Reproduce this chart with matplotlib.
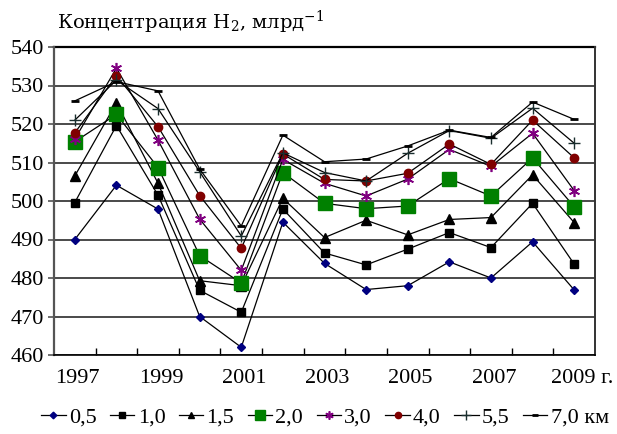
import matplotlib
matplotlib.use("Agg")
import matplotlib.pyplot as plt
from matplotlib.transforms import ScaledTranslation

plt.rcParams['font.family'] = ['Liberation Serif', 'DejaVu Serif']
plt.rcParams['mathtext.fontset'] = 'custom'
plt.rcParams['mathtext.rm'] = 'DejaVu Serif'
plt.rcParams['mathtext.it'] = 'DejaVu Serif:italic'

years = [1997, 1998, 1999, 2000, 2001, 2002, 2003, 2004, 2005, 2006, 2007, 2008, 2009]
tick_years = [1997, 1999, 2001, 2003, 2005, 2007, 2009]
tick_labels = ["1997", "1999", "2001", "2003", "2005", "2007", "2009 г."]

h05 = [490.0, 504.1, 497.9, 470.0, 462.0, 494.5, 483.8, 477.0, 478.0, 484.2, 480.0, 489.4, 476.9]
h10 = [499.6, 519.6, 501.5, 476.8, 471.1, 497.9, 486.5, 483.4, 487.5, 491.8, 487.9, 499.4, 483.6]
h15 = [506.5, 525.5, 504.6, 479.3, 478.0, 500.7, 490.5, 495.0, 491.2, 495.2, 495.7, 506.8, 494.4]
h20 = [515.4, 522.5, 508.7, 485.8, 478.7, 507.4, 499.4, 498.0, 498.7, 505.8, 501.3, 511.2, 498.5]
h30 = [516.1, 534.5, 515.8, 495.3, 482.0, 510.8, 504.6, 501.3, 505.7, 513.4, 509.0, 517.6, 502.7]
h40 = [517.7, 532.5, 519.3, 501.4, 487.7, 512.2, 505.6, 505.2, 507.2, 514.8, 509.5, 521.0, 511.2]
h55 = [521.0, 531.4, 524.0, 507.6, 490.9, 512.5, 507.4, 505.2, 512.4, 518.3, 516.3, 524.1, 515.0]
h70 = [526.0, 531.0, 528.6, 508.3, 493.5, 517.1, 510.2, 510.9, 514.3, 518.4, 516.5, 525.7, 521.2]

labels = ["0,5", "1,0", "1,5", "2,0", "3,0", "4,0", "5,5", "7,0 км"]
series = [h05, h10, h15, h20, h30, h40, h55, h70]

styles = [
    dict(marker='D', ms=4.5, mfc='#000080', mec='#000080'),
    dict(marker='s', ms=5.5, mfc='black', mec='black'),
    dict(marker='^', ms=6.5, mfc='black', mec='black'),
    dict(marker='s', ms=10, mfc='#008000', mec='#008000'),
    dict(marker=(6, 2, 0), ms=8, mfc='#800080', mec='#800080', mew=1.2),
    dict(marker='o', ms=6, mfc='#800000', mec='#800000'),
    dict(marker='+', ms=9, mfc='#1a2e2e', mec='#1a2e2e', mew=1.0),
    dict(marker='_', ms=6, mfc='black', mec='black', mew=2),
]

fig = plt.figure(figsize=(6.17, 4.34), dpi=100)
ax = fig.add_axes([54/617, (434-355)/434, (595-54)/617, (355-47)/434])

x = list(range(len(years)))
handles = []
for s, st, lab in zip(series, styles, labels):
    h, = ax.plot(x, s, color='black', lw=0.9, label=lab, zorder=3, **st)
    handles.append(h)

ax.set_xlim(-0.5, len(years) - 0.5)
ax.set_ylim(460, 540)
ax.set_yticks(range(460, 541, 10))
ax.yaxis.grid(True, color='#4a4a4a', lw=1.4)
ax.set_axisbelow(True)

ax.set_xticks([years.index(y) for y in tick_years])
ax.set_xticklabels(tick_labels)
ax.set_xticks([i + 0.5 for i in range(len(years) - 1)], minor=True)
ax.tick_params(axis='x', which='major', length=0, pad=10, labelsize=16)
ax.tick_params(axis='x', which='minor', direction='in', length=5, width=1, color='black')
ax.tick_params(axis='y', which='major', direction='out', length=4, width=1.2, color='#555555', pad=3, labelsize=16)
shift = ScaledTranslation(3/100, 0, fig.dpi_scale_trans)
for i, lbl in enumerate(ax.get_xticklabels()):
    extra = 5/100 if i == len(tick_labels) - 1 else 0
    lbl.set_transform(lbl.get_transform() + shift + ScaledTranslation(extra, 0, fig.dpi_scale_trans))

ax.spines['top'].set_visible(False)
ax.spines['left'].set_color('#555555')
ax.spines['left'].set_linewidth(1.6)
ax.spines['bottom'].set_color('black')
ax.spines['bottom'].set_linewidth(1.2)
ax.spines['right'].set_color('#333333')
ax.spines['right'].set_linewidth(1.4)
ax.axhline(540, color='black', lw=1.6, zorder=2, clip_on=False)

fig.text(57/617, 1 - 22/434, r"Концентрация H$_2$, млрд$^{-1}$", fontsize=14,
         family=['DejaVu Serif'], ha='left', va='center')

fig.legend(handles=handles, labels=labels, loc='center', bbox_to_anchor=(325/617, 17/434),
           ncol=8, frameon=False, handlelength=1.1, handletextpad=0.15, columnspacing=0.6,
           fontsize=16, borderpad=0, borderaxespad=0, markerscale=0.75)

fig.savefig("out.png", dpi=100)
